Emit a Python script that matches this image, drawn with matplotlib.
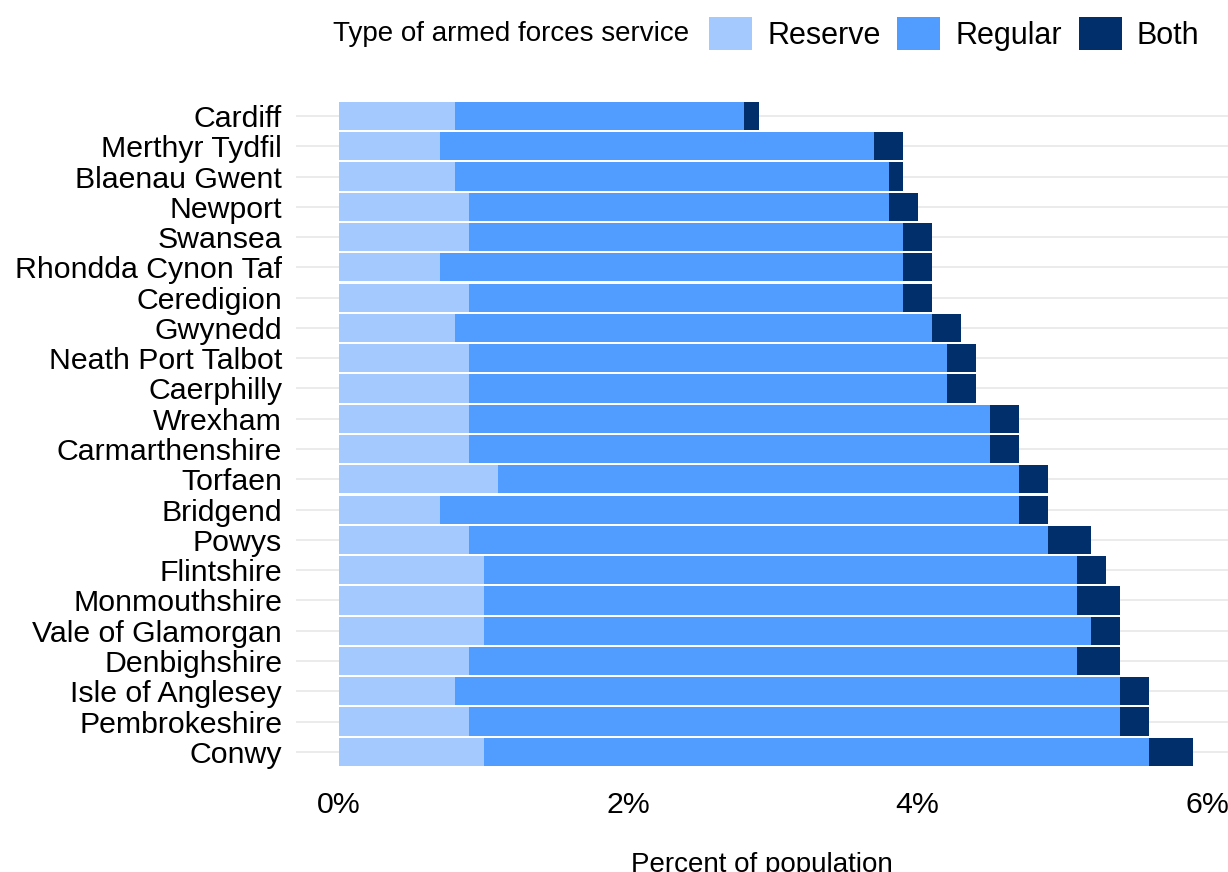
import numpy as np
import matplotlib
matplotlib.use("Agg")
import matplotlib.pyplot as plt
from matplotlib.patches import Patch

plt.rcParams['font.family'] = ['Liberation Sans', 'DejaVu Sans']

# Welsh local authorities, percent of population by service type
areas = ["Cardiff", "Merthyr Tydfil", "Blaenau Gwent", "Newport", "Swansea",
         "Rhondda Cynon Taf", "Ceredigion", "Gwynedd", "Neath Port Talbot",
         "Caerphilly", "Wrexham", "Carmarthenshire", "Torfaen", "Bridgend",
         "Powys", "Flintshire", "Monmouthshire", "Vale of Glamorgan",
         "Denbighshire", "Isle of Anglesey", "Pembrokeshire", "Conwy"]
reserve = [0.8, 0.7, 0.8, 0.9, 0.9, 0.7, 0.9, 0.8, 0.9, 0.9, 0.9,
           0.9, 1.1, 0.7, 0.9, 1.0, 1.0, 1.0, 0.9, 0.8, 0.9, 1.0]
regular = [2.0, 3.0, 3.0, 2.9, 3.0, 3.2, 3.0, 3.3, 3.3, 3.3, 3.6,
           3.6, 3.6, 4.0, 4.0, 4.1, 4.1, 4.2, 4.2, 4.6, 4.5, 4.6]
both = [0.1, 0.2, 0.1, 0.2, 0.2, 0.2, 0.2, 0.2, 0.2, 0.2, 0.2,
        0.2, 0.2, 0.2, 0.3, 0.2, 0.3, 0.2, 0.3, 0.2, 0.2, 0.3]
series = ["Reserve", "Regular", "Both"]
colors = ["#A3C9FE", "#519CFF", "#002F6C"]

W, H = 1228, 872
fig = plt.figure(figsize=(W / 100, H / 100), dpi=100)
ax = fig.add_axes([296 / W, 1 - 770 / H, (1228 - 296) / W, (770 - 97.8) / H])

y = np.arange(len(areas))
left = np.zeros(len(areas))
for vals, name, c in zip([reserve, regular, both], series, colors):
    ax.barh(y, vals, left=left, height=0.93, color=c, label=name, zorder=2)
    left = left + np.array(vals)

ax.set_ylim(len(areas) - 0.4, -0.6)
ax.set_xlim(-0.297, 6.145)
ax.set_yticks(y)
ax.set_yticklabels(areas)
ax.set_xticks([0, 2, 4, 6])
ax.set_xticklabels(["0%", "2%", "4%", "6%"])
ax.tick_params(axis='both', length=0, labelsize=21.8, labelcolor='black')
ax.tick_params(axis='y', pad=10)
ax.tick_params(axis='x', pad=15)
ax.grid(axis='y', color='#EBEBEB', lw=1.4, zorder=0)
ax.grid(axis='x', visible=False)
for spine in ax.spines.values():
    spine.set_visible(False)
ax.set_xlabel("Percent of population", fontsize=20, labelpad=24)

# legend across the top
fig.text(333 / W, 1 - 34 / H, "Type of armed forces service", fontsize=20,
         va='center', ha='left')
handles = [Patch(facecolor=c, label=s) for s, c in zip(series, colors)]
fig.legend(handles=handles, ncol=3, loc='center left',
           bbox_to_anchor=(700 / W, 1 - 34 / H), frameon=False, fontsize=22,
           handlelength=1.4, handleheight=1.3, columnspacing=0.55,
           handletextpad=0.5, borderaxespad=0, borderpad=0.3)

fig.savefig("out.png", dpi=100, facecolor='white')
